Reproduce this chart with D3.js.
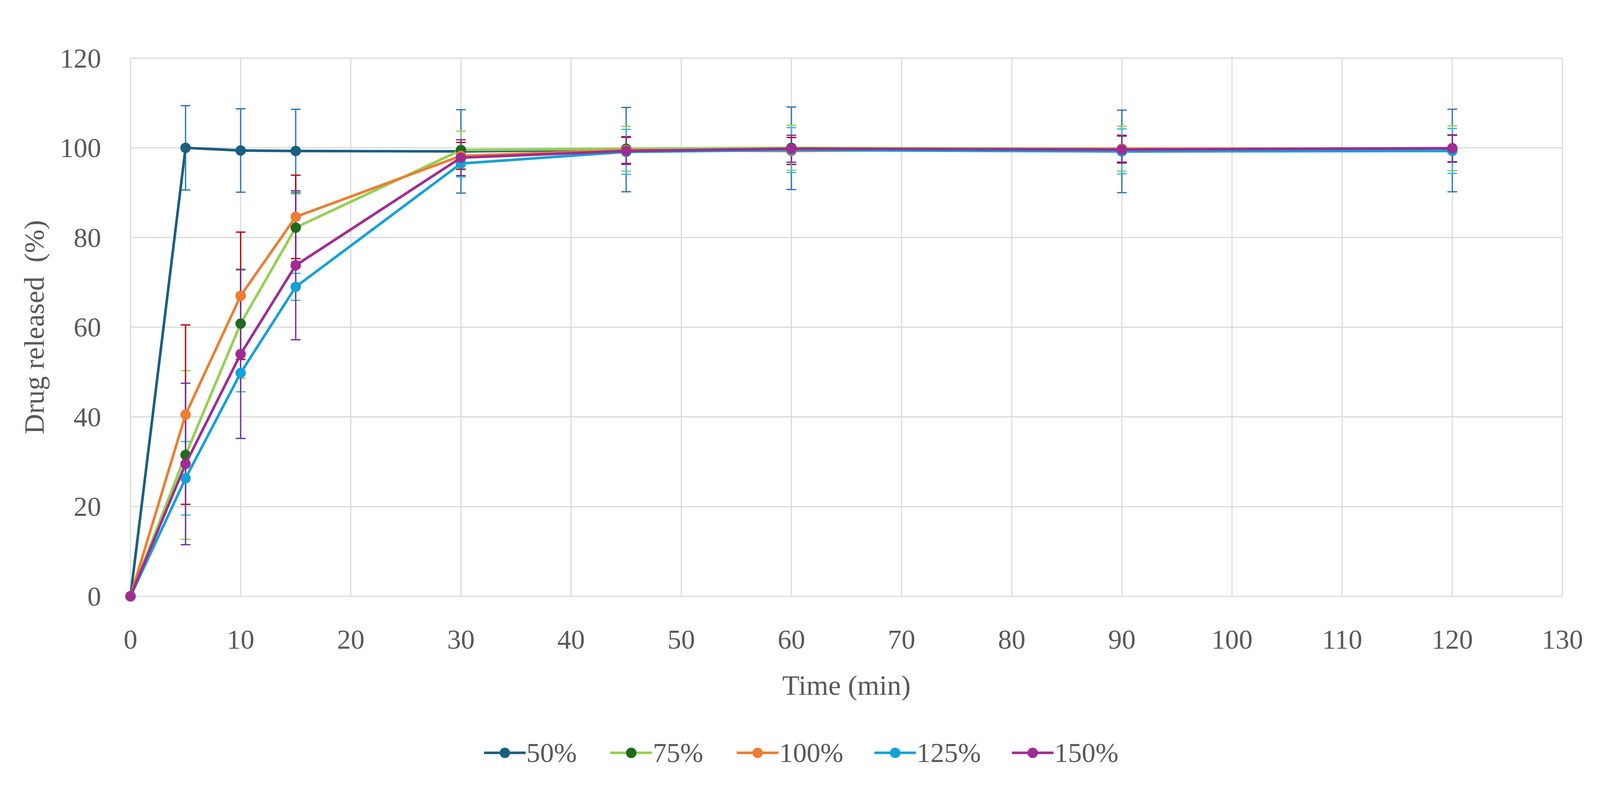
<!DOCTYPE html><html><head><meta charset="utf-8">
<script src="https://cdn.jsdelivr.net/npm/d3@7"></script>
<style>html,body{margin:0;padding:0;background:#fff;overflow:hidden}svg{display:block;width:100vw;height:100vh}</style></head><body>
<svg id="c" viewBox="0 0 4304 2060" preserveAspectRatio="xMidYMid meet"></svg>
<script>
const times=[0,5,10,15,30,45,60,90,120];
const seriesNames=["50%","75%","100%","125%","150%"];
const v50=[0,100,99.4,99.3,99.2,99.6,99.9,99.2,99.4];
const e50=[0,9.4,9.3,9.3,9.3,9.4,9.2,9.2,9.2];
const v75=[0,31.5,60.8,82.2,99.5,99.8,100,99.8,99.9];
const e75=[0,18.8,12.2,7.5,4.2,5,5,5,5];
const v100=[0,40.5,67,84.6,98.2,99.5,99.3,99.8,99.8];
const e100=[0,20,14.2,9.3,3,3,3,3,3];
const v125=[0,26.3,49.8,69,96.5,99.1,99.5,99.2,99.3];
const e125=[0,8.2,4.2,3,3,5,5,5,5];
const v150=[0,29.5,54,73.8,97.8,99.3,99.8,99.6,99.9];
const e150=[0,18,18.8,16.6,4,3,3,3,3];
const xTicks=d3.range(0,131,10), yTicks=d3.range(0,121,20);
const lineCol=["#1B5E80","#92D050","#ED7D31","#14A1DA","#A02B93"];
const dotCol=["#1B5E80","#1E6B1E","#ED7D31","#14A1DA","#A02B93"];
const errCol=["#2E75B6","#92D050","#C00000","#3CB4E6","#7030A0"];
const vals=[v50,v75,v100,v125,v150], errs=[e50,e75,e100,e125,e150];
const svg=d3.select("#c"), font="'Liberation Serif', serif";
const x=d3.scaleLinear().domain([0,130]).range([351,4203]);
const y=d3.scaleLinear().domain([0,120]).range([1551,104]);
const g=svg.append("g");
g.selectAll(".gx").data(xTicks).join("line").attr("x1",d=>x(d)).attr("x2",d=>x(d)).attr("y1",y(0)).attr("y2",y(120)).attr("stroke","#d9d9d9").attr("stroke-width",3);
g.selectAll(".gy").data(yTicks).join("line").attr("x1",x(0)).attr("x2",x(130)).attr("y1",d=>y(d)).attr("y2",d=>y(d)).attr("stroke","#d9d9d9").attr("stroke-width",3);
g.selectAll(".tx").data(xTicks).join("text").attr("x",d=>x(d)).attr("y",1692).attr("text-anchor","middle").attr("font-family",font).attr("font-size",74).attr("fill","#595959").text(d=>d);
g.selectAll(".ty").data(yTicks).join("text").attr("x",272).attr("y",d=>y(d)+25).attr("text-anchor","end").attr("font-family",font).attr("font-size",74).attr("fill","#595959").text(d=>d);
svg.append("text").attr("x",x(65)).attr("y",1816).attr("text-anchor","middle").attr("font-family",font).attr("font-size",76).attr("fill","#595959").text("Time (min)");
svg.append("text").attr("transform",`translate(118,${y(60)}) rotate(-90)`).attr("text-anchor","middle").attr("font-family",font).attr("font-size",76).attr("fill","#595959").attr("xml:space","preserve").text("Drug released  (%)");
const line=d3.line().x(d=>x(d[0])).y(d=>y(d[1]));
vals.forEach((vs,i)=>{
  const pts=times.map((t,j)=>[t,vs[j],errs[i][j]]);
  const eg=svg.append("g").attr("stroke",errCol[i]).attr("stroke-width",3.5);
  pts.filter(p=>p[2]>0).forEach(p=>{
    eg.append("line").attr("x1",x(p[0])).attr("x2",x(p[0])).attr("y1",y(p[1]-p[2])).attr("y2",y(p[1]+p[2]));
    [p[1]-p[2],p[1]+p[2]].forEach(v=>eg.append("line").attr("x1",x(p[0])-13).attr("x2",x(p[0])+13).attr("y1",y(v)).attr("y2",y(v)));
  });
});
vals.forEach((vs,i)=>{
  const pts=times.map((t,j)=>[t,vs[j]]);
  svg.append("path").datum(pts).attr("d",line).attr("fill","none").attr("stroke",lineCol[i]).attr("stroke-width",7);
  svg.append("g").selectAll("circle").data(pts).join("circle").attr("cx",d=>x(d[0])).attr("cy",d=>y(d[1])).attr("r",14).attr("fill",dotCol[i]);
});
let lx=1302;
seriesNames.forEach((n,i)=>{
  const lg=svg.append("g").attr("transform",`translate(${lx},1972)`);
  lg.append("line").attr("x1",0).attr("x2",112).attr("stroke",lineCol[i]).attr("stroke-width",7);
  lg.append("circle").attr("cx",56).attr("r",14).attr("fill",dotCol[i]);
  lg.append("text").attr("x",114).attr("y",25).attr("font-family",font).attr("font-size",74).attr("fill","#595959").text(n);
  lx+=[340,340,370,370,0][i];
});
</script></body></html>
